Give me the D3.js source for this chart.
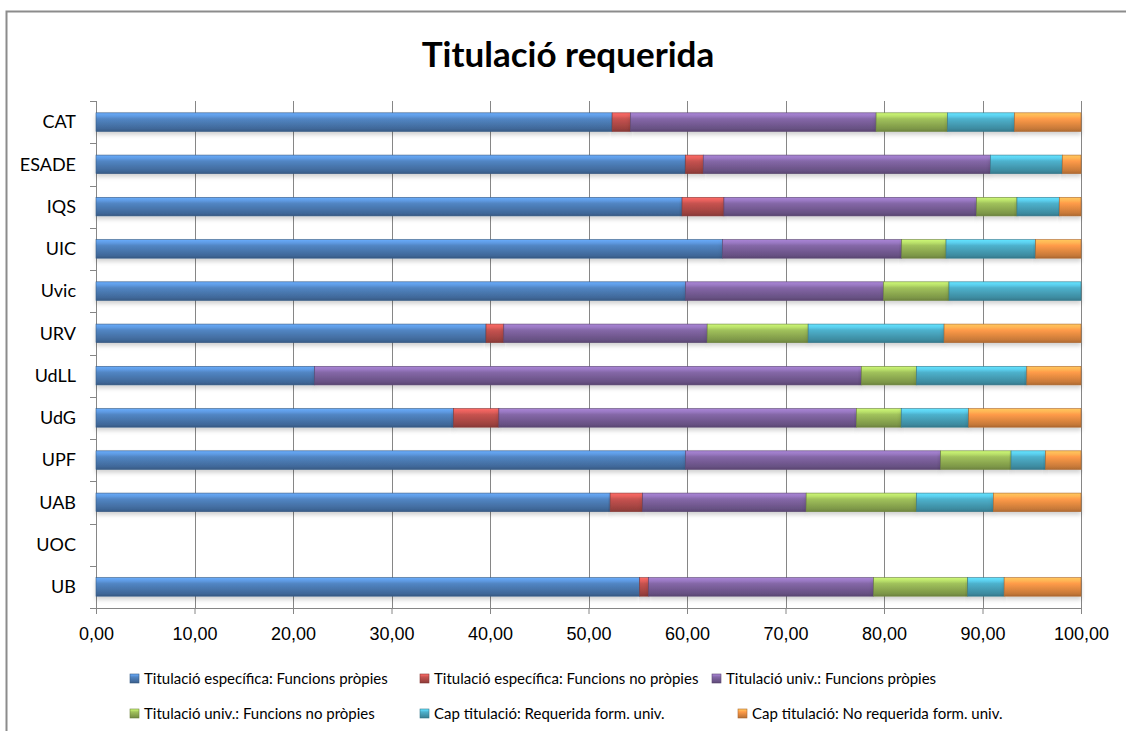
<!DOCTYPE html>
<meta charset="utf-8">
<script src="https://d3js.org/d3.v7.min.js"></script>
<style type="text/css">
body { margin:0; background:#fff; }
svg { font-family: Lato, "Liberation Sans", sans-serif; }
.axis path { display:none; }
.axis line { stroke:#868686; }
.axis text { font-size:18px; fill:#000; }
.grid line { stroke:#868686; stroke-width:1px; }
.legend text { font-size:15px; fill:#000; }
</style>
<body></body>
<script>

// categories, top to bottom
var categories = ['CAT','ESADE','IQS','UIC','Uvic','URV','UdLL','UdG','UPF','UAB','UOC','UB'];

var seriesNames = [
  'Titulació específica: Funcions pròpies',
  'Titulació específica: Funcions no pròpies',
  'Titulació univ.: Funcions pròpies',
  'Titulació univ.: Funcions no pròpies',
  'Cap titulació: Requerida form. univ.',
  'Cap titulació: No requerida form. univ.'
];

// values per series, same order as categories
var espPropies   = [52.4, 59.85, 59.5, 63.6, 59.85, 39.6, 22.2, 36.3, 59.85, 52.2, 0, 55.2];
var espNoPropies = [1.85, 1.8, 4.25, 0, 0, 1.8, 0, 4.6, 0, 3.3, 0, 0.9];
var univPropies  = [24.95, 29.15, 25.65, 18.2, 20.1, 20.65, 55.5, 36.3, 25.9, 16.6, 0, 22.85];
var univNoPropies= [7.25, 0, 4.1, 4.5, 6.65, 10.25, 5.6, 4.55, 7.15, 11.2, 0, 9.55];
var capRequerida = [6.8, 7.3, 4.3, 9.1, 13.4, 13.8, 11.2, 6.85, 3.5, 7.8, 0, 3.7];
var capNoReq     = [6.75, 1.9, 2.2, 4.6, 0, 13.9, 5.5, 11.4, 3.6, 8.9, 0, 7.8];

var xTicks = [0,10,20,30,40,50,60,70,80,90,100];

var colors = ['#4f81bd','#c0504d','#8064a2','#9bbb59','#4bacc6','#f79646'];

var allSeries = [espPropies, espNoPropies, univPropies, univNoPropies, capRequerida, capNoReq];

var table = categories.map(function(c, i) {
  var row = {cat: c};
  seriesNames.forEach(function(s, j) { row[s] = allSeries[j][i]; });
  return row;
});

var W = 1126, H = 731;
var margin = {top: 101, right: 45, bottom: 123, left: 96};
var width = W - margin.left - margin.right;
var height = H - margin.top - margin.bottom;

var root = d3.select('body').append('svg')
  .attr('width', W)
  .attr('height', H);

// chart border
root.append('rect')
  .attr('x', 6.5).attr('y', 11.5)
  .attr('width', W + 20).attr('height', H + 20)
  .attr('fill', '#fff')
  .attr('stroke', '#8c8c8c')
  .attr('stroke-width', 2);

// gradients for the bevel look
var defs = root.append('defs');
colors.forEach(function(c, i) {
  var base = d3.color(c);
  var g = defs.append('linearGradient')
    .attr('id', 'grad' + i)
    .attr('x1', 0).attr('y1', 0).attr('x2', 0).attr('y2', 1);
  g.append('stop').attr('offset', '0%').attr('stop-color', base.brighter(0.8));
  g.append('stop').attr('offset', '18%').attr('stop-color', base.brighter(0.5));
  g.append('stop').attr('offset', '32%').attr('stop-color', base.brighter(0.1));
  g.append('stop').attr('offset', '60%').attr('stop-color', base.darker(0.25));
  g.append('stop').attr('offset', '85%').attr('stop-color', base.darker(0.6));
  g.append('stop').attr('offset', '100%').attr('stop-color', base.darker(1));
});
var shadow = defs.append('filter').attr('id', 'shadow')
  .attr('x', '-5%').attr('y', '-20%').attr('width', '110%').attr('height', '180%');
shadow.append('feDropShadow')
  .attr('dx', 0).attr('dy', 3).attr('stdDeviation', 2)
  .attr('flood-color', '#000').attr('flood-opacity', 0.18);

// title
root.append('text')
  .attr('x', 568).attr('y', 67)
  .attr('text-anchor', 'middle')
  .style('font-size', '35px')
  .style('font-weight', 'bold')
  .text('Titulació requerida');

var svg = root.append('g')
  .attr('transform', 'translate(' + margin.left + ',' + margin.top + ')');

var xScale = d3.scaleLinear().domain([0, 100]).range([0, width]);
var yScale = d3.scaleBand().domain(categories).range([0, height]).paddingInner(0.56).paddingOuter(0.28);
var yBand = d3.scaleBand().domain(categories).range([0, height]);

// vertical gridlines
svg.append('g').attr('class', 'grid')
  .selectAll('line')
  .data(xTicks.slice(1)).enter().append('line')
  .attr('x1', function(d) { return Math.round(xScale(d)) + 0.5; })
  .attr('x2', function(d) { return Math.round(xScale(d)) + 0.5; })
  .attr('y1', 0).attr('y2', height);

// x axis
var xAxis = d3.axisBottom(xScale)
  .tickValues(xTicks)
  .tickSize(6)
  .tickPadding(13)
  .tickFormat(function(d) { return d3.format('.2f')(d).replace('.', ','); });

var xg = svg.append('g')
  .attr('class', 'x axis')
  .attr('transform', 'translate(0,' + height + ')')
  .call(xAxis);
xg.append('line').attr('x1', 0).attr('x2', width).attr('y1', 0.5).attr('y2', 0.5);

// y axis: ticks at category boundaries
var yg = svg.append('g').attr('class', 'y axis');
yg.append('line').attr('x1', 0.5).attr('x2', 0.5).attr('y1', 0).attr('y2', height);
yg.selectAll('.tk')
  .data(categories.concat(['_end'])).enter().append('line')
  .attr('class', 'tk')
  .attr('x1', -6).attr('x2', 0.5)
  .attr('y1', function(d, i) { return Math.round(i * yBand.step()) + 0.5; })
  .attr('y2', function(d, i) { return Math.round(i * yBand.step()) + 0.5; });
yg.selectAll('text')
  .data(categories).enter().append('text')
  .attr('x', -20)
  .attr('y', function(d) { return yBand(d) + yBand.bandwidth() / 2; })
  .attr('dy', '0.35em')
  .attr('text-anchor', 'end')
  .text(function(d) { return d; });

// stacked bars
var stack = d3.stack().keys(seriesNames);
var layers = stack(table);

var layer = svg.selectAll('.layer')
  .data(layers).enter().append('g')
  .attr('class', 'layer');

layer.selectAll('rect')
  .data(function(d, i) { return d.map(function(p) { return {p: p, i: i}; }); })
  .enter().append('rect')
  .filter(function(d) { return d.p[1] - d.p[0] > 0; })
  .attr('x', function(d) { return xScale(d.p[0]); })
  .attr('y', function(d) { return yScale(d.p.data.cat); })
  .attr('width', function(d) { return xScale(d.p[1]) - xScale(d.p[0]); })
  .attr('height', yScale.bandwidth())
  .attr('fill', function(d) { return 'url(#grad' + d.i + ')'; })
  .attr('stroke', function(d) { return d3.color(colors[d.i]).darker(1); })
  .attr('stroke-width', 0.6)
  .attr('filter', 'url(#shadow)');

// legend
var legendPos = [[130, 679], [420, 679], [712, 679], [130, 714], [420, 714], [738, 714]];
var legend = root.append('g').attr('class', 'legend')
  .selectAll('g')
  .data(seriesNames).enter().append('g')
  .attr('transform', function(d, i) { return 'translate(' + legendPos[i][0] + ',' + legendPos[i][1] + ')'; });

legend.append('rect')
  .attr('x', 0).attr('y', -5)
  .attr('width', 9).attr('height', 9)
  .attr('fill', function(d, i) { return 'url(#grad' + i + ')'; })
  .attr('stroke', function(d, i) { return d3.color(colors[i]).darker(1); })
  .attr('stroke-width', 0.6);

legend.append('text')
  .attr('x', 14)
  .attr('y', 0)
  .attr('dy', '0.35em')
  .text(function(d) { return d; });

</script>
